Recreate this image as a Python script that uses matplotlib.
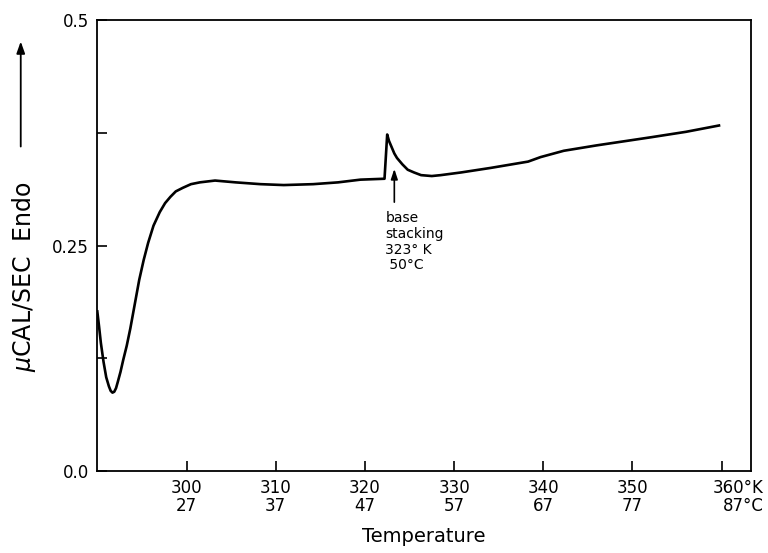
import matplotlib
matplotlib.use("Agg")
import matplotlib.pyplot as plt
from matplotlib.transforms import ScaledTranslation

# DSC trace (temperature in K, signal in uCAL/SEC)
temp_k = [290.0, 290.2, 290.4, 290.7, 291.0, 291.3, 291.5, 291.7, 291.9,
          292.1, 292.3, 292.6, 292.9, 293.3, 293.7, 294.2, 294.7, 295.2,
          295.7, 296.3, 297.0, 297.6, 298.2, 298.8, 299.6, 300.5, 301.5,
          303.2, 305.5, 308.3, 310.9, 314.2, 317.0, 319.5, 322.2, 322.5,
          322.7, 323.0, 323.3, 323.6, 324.2, 324.8, 325.5, 326.3, 327.5,
          328.5, 330.8, 334.1, 338.3, 339.7, 342.3, 346.0, 352.1, 356.0,
          359.7]
signal = [0.177, 0.160, 0.142, 0.121, 0.104, 0.094, 0.089, 0.087, 0.088,
          0.092, 0.099, 0.110, 0.123, 0.139, 0.158, 0.185, 0.212, 0.234,
          0.253, 0.272, 0.287, 0.297, 0.304, 0.310, 0.314, 0.318, 0.320,
          0.322, 0.320, 0.318, 0.317, 0.318, 0.320, 0.323, 0.324, 0.373,
          0.366, 0.359, 0.352, 0.347, 0.340, 0.334, 0.331, 0.328, 0.327,
          0.328, 0.331, 0.336, 0.343, 0.348, 0.355, 0.361, 0.370, 0.376,
          0.383]

xticks = [300, 310, 320, 330, 340, 350, 360]
xtick_labels = ["300\n27", "310\n37", "320\n47", "330\n57", "340\n67",
                "350\n77", "360°K\n87°C"]
yticks = [0.0, 0.125, 0.25, 0.375, 0.5]
ytick_labels = ["0.0", "", "0.25", "", "0.5"]

plt.rcParams["font.family"] = ["DejaVu Sans"]

fig = plt.figure(figsize=(7.68, 5.53), dpi=100, facecolor="white")
ax = fig.add_axes([0.1267, 0.148, 0.8513, 0.816])

ax.plot(temp_k, signal, color="black", lw=1.9)

ax.set_xlim(290, 363.3)
ax.set_ylim(0, 0.5)
ax.set_xticks(xticks)
ax.set_xticklabels(xtick_labels, fontsize=12, linespacing=1.0)
ax.set_yticks(yticks)
ax.set_yticklabels(ytick_labels, fontsize=12)
ax.tick_params(direction="in", length=7, width=1.2, colors="black", pad=6)
for s in ax.spines.values():
    s.set_linewidth(1.3)

# last label sits a bit to the right of its tick
last = ax.get_xticklabels()[-1]
last.set_multialignment("right")
last.set_transform(last.get_transform() + ScaledTranslation(12 / 72, 0, fig.dpi_scale_trans))

ax.set_xlabel("Temperature", fontsize=14, labelpad=8)

# y label with arrow
fig.text(0.031, 0.50, r"$\mu$CAL/SEC  Endo", rotation=90, fontsize=17,
         ha="center", va="center")
fig.add_artist(matplotlib.patches.FancyArrowPatch(
    (0.027, 0.73), (0.027, 0.93), transform=fig.transFigure,
    arrowstyle="-|>,head_length=7,head_width=2.5", color="black", lw=1.3))

# base stacking annotation
ax.annotate("", xy=(323.3, 0.338), xytext=(323.3, 0.295),
            arrowprops=dict(arrowstyle="-|>,head_length=0.6,head_width=0.2",
                            color="black", lw=1.2))
ax.text(322.3, 0.288, "base\nstacking\n323° K\n 50°C", fontsize=10,
        ha="left", va="top", linespacing=1.15)

fig.savefig("out.png", dpi=100, facecolor="white")
